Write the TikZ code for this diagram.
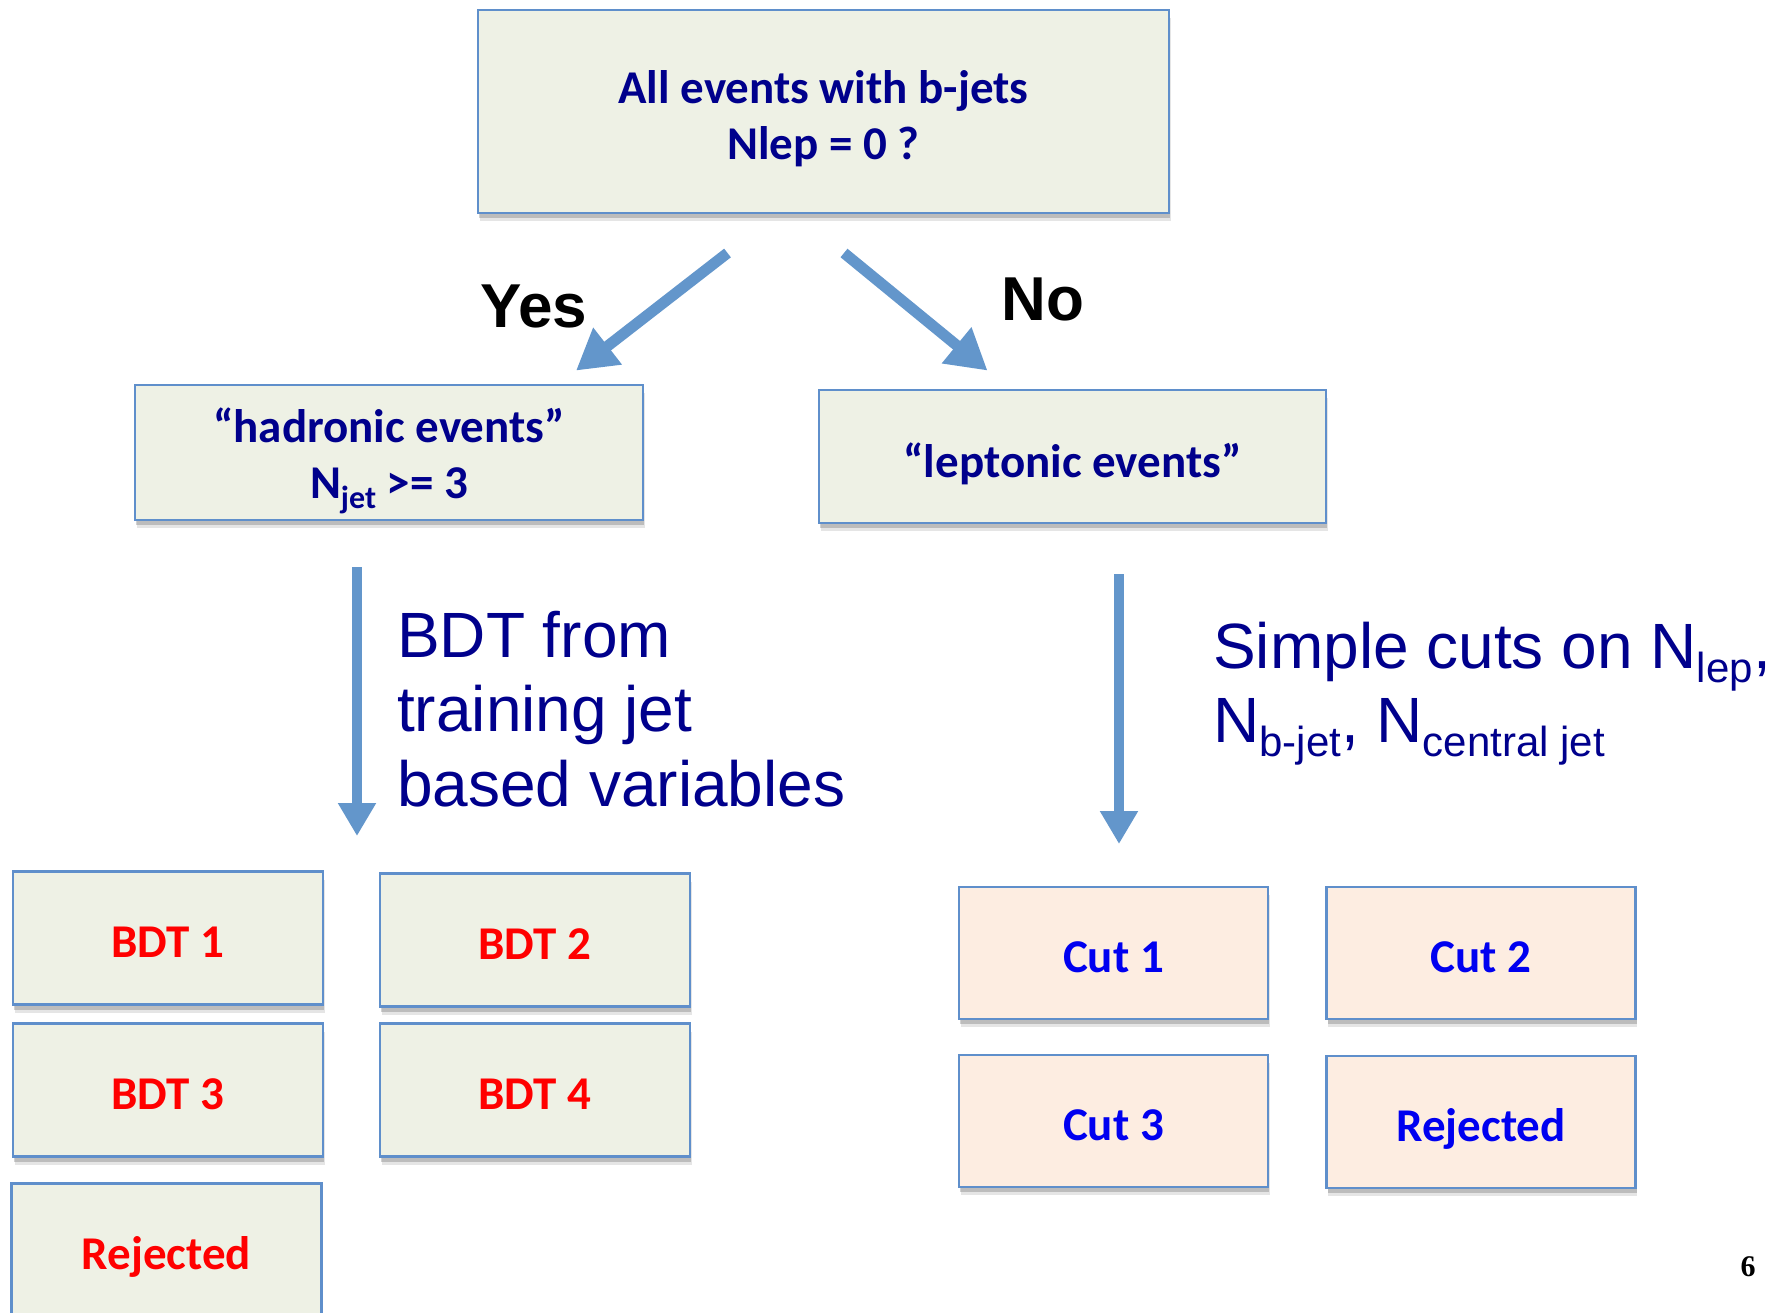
\documentclass[tikz,border=0pt]{standalone}
\usepackage{fontspec}
\setmainfont{Carlito}
\newfontfamily\arialf{Liberation Sans}
\newfontfamily\timesf{Liberation Serif}
\usetikzlibrary{arrows.meta,shadows}
\definecolor{boxgreen}{HTML}{EEF1E5}
\definecolor{boxpeach}{HTML}{FDEDE1}
\definecolor{boxline}{HTML}{5F8FCB}
\definecolor{arrowblue}{HTML}{6396CB}
\definecolor{navytext}{HTML}{00008C}
\definecolor{cutblue}{HTML}{0000F0}
\definecolor{bdtred}{HTML}{FF0000}
\newcommand\hstrut[1]{\rule{0pt}{#1}}
\begin{document}
\begin{tikzpicture}[x=1pt,y=-1pt,
  box/.style={draw=boxline, line width=2.2pt, fill=boxgreen, inner sep=0pt, align=center,
    font=\bfseries\fontsize{47}{56}\selectfont,
    drop shadow={shadow xshift=1.5pt, shadow yshift=-8pt, opacity=0.10, fill=black},
    drop shadow={shadow xshift=1pt, shadow yshift=-5pt, opacity=0.18, fill=black}},
  greenbox/.style={box, minimum width=310pt, minimum height=133pt, text=bdtred, text height=38pt, text depth=0pt},
  peachbox/.style={box, fill=boxpeach, minimum width=309pt, minimum height=132pt, text=cutblue, text height=38pt, text depth=0pt},
  fatdiag/.style={draw=arrowblue, line width=11pt, -{Triangle[length=40pt,width=44pt]}},
  fatvert/.style={draw=arrowblue, line width=10pt, -{Triangle[length=33pt,width=36pt]}},
  bigtext/.style={anchor=base west, inner sep=0pt, text=navytext, font=\arialf\fontsize{64}{75}\selectfont},
  yesno/.style={inner sep=0pt, font=\arialf\bfseries\fontsize{62}{70}\selectfont}]
\useasboundingbox (0,0) rectangle (1788,1313);
\clip (0,0) rectangle (1788,1313);

% top question
\node[box, minimum width=691pt, minimum height=203pt, text=navytext] (top) at (823.5,111.5)
  {\hstrut{48pt}All events with b-jets\\Nlep = 0 ?};

% second level
\node[box, minimum width=508pt, minimum height=135pt, text=navytext] (had) at (389,452.5)
  {\hstrut{52pt}“hadronic events”\\N\raisebox{-10pt}{\fontsize{32}{32}\selectfont jet} >= 3};
\node[box, minimum width=507pt, minimum height=133pt, text=navytext, text height=41pt, text depth=0pt] (lep) at (1072.5,456.5)
  {“leptonic events”};

% diagonal arrows
\coordinate (yesA) at (727.5,253);
\coordinate (yesB) at (576,370.6);
\coordinate (noA) at (844,253);
\coordinate (noB) at (987.5,370.6);
\draw[fatdiag] (yesA) -- (yesB);
\draw[fatdiag] (noA) -- (noB);
\node[yesno] (yes) at (534,306) {Yes};
\node[yesno] (no) at (1043,299) {No};

% vertical arrows
\coordinate (hadA) at (357,567);
\coordinate (hadB) at (357,836);
\coordinate (lepA) at (1119,574);
\coordinate (lepB) at (1119,844);
\draw[fatvert] (hadA) -- (hadB);
\draw[fatvert] (lepA) -- (lepB);

% arrow descriptions
\node[bigtext] (bdtl1) at (397,657) {BDT from};
\node[bigtext] (bdtl2) at (397,731) {training jet};
\node[bigtext] (bdtl3) at (397,806) {based variables};
\node[bigtext] (cutl1) at (1213,668) {Simple cuts on N\raisebox{-14pt}{\fontsize{42}{42}\selectfont lep},};
\node[bigtext] (cutl2) at (1213,742) {N\raisebox{-14pt}{\fontsize{42}{42}\selectfont b-jet}, N\raisebox{-14pt}{\fontsize{42}{42}\selectfont central jet}};

% BDT categories
\node[greenbox] (bdt1) at (168,938) {BDT 1};
\node[greenbox] (bdt2) at (535,940) {BDT 2};
\node[greenbox] (bdt3) at (168,1090) {BDT 3};
\node[greenbox] (bdt4) at (535,1090) {BDT 4};
\node[greenbox] (rejh) at (166.5,1250) {Rejected};

% cut categories
\node[peachbox] (cut1) at (1113.5,953) {Cut 1};
\node[peachbox] (cut2) at (1481,953) {Cut 2};
\node[peachbox] (cut3) at (1113.5,1121) {Cut 3};
\node[peachbox] (rejl) at (1481,1122) {Rejected};

% page number
\node[inner sep=0pt, font=\timesf\bfseries\fontsize{30}{30}\selectfont] (pg) at (1748,1267) {6};
\end{tikzpicture}
\end{document}
